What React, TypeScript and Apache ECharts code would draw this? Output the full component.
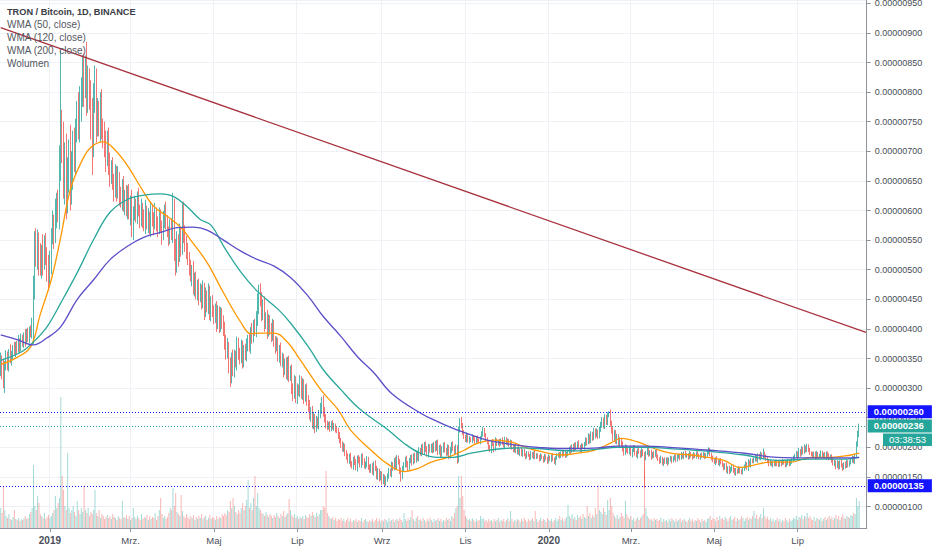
import React, { useEffect, useRef } from "react";
import * as echarts from "echarts";

// ---------- data (prices in units of 0.00000001 BTC) ----------
const START_UTC = Date.UTC(2018, 10, 26); // first daily candle
const TOTAL_DAYS = 634; // candles + empty future days on the axis
const OPEN_FIRST = 330;

const CLOSE = [
  345, 330, 312, 338, 352, 340, 360, 348, 355, 368, 362, 372, 366, 378, 370, 382, 376, 388, 380, 392, 386, 398, 392, 404,
  470, 540,
  525, 548, 520, 505, 530, 515, 540, 528, 510, 490,
  512, 555, 575, 560, 590, 610, 598,
  690, 740, 715,
  650, 690, 620, 660, 700, 640, 670, 710,
  690, 735, 760, 745, 780,
  800, 835, 810, 845, 790, 825, 800,
  760, 720, 790, 815, 750,
  770, 745, 775, 740, 730,
  710, 690, 720, 680, 665,
  670, 650, 640, 660, 635, 655, 628,
  620, 638, 610, 625, 605, 630, 600, 615, 570, 595,
  610, 595, 620, 600, 585, 605, 590, 575, 598, 580, 590, 570, 600, 585, 578, 595, 580,
  570, 590, 575, 560, 585, 600, 580, 565, 555, 575, 560, 600,
  540, 510, 550, 525, 560, 540, 600, 565, 545, 530,
  520, 505, 490, 500, 470, 485, 460, 475, 455, 465,
  445, 470, 430, 455, 440, 465, 425, 445, 430,
  420, 435, 410, 430, 405, 425, 415, 400,
  380, 360, 370, 340, 320, 350, 330,
  355, 345, 375, 360, 350, 370, 345, 365, 355, 372,
  380, 370, 395, 385, 405, 398, 415,
  440, 465, 450,
  425, 440, 410, 420, 395, 415, 400, 390, 405,
  380, 370, 375, 355, 365, 345, 350, 330, 340, 325, 345, 320, 330,
  300, 290, 310, 285, 300, 295, 312, 290, 305, 285, 298, 280,
  270, 255, 262, 240, 250, 232, 245,
  238, 255, 265, 280, 262, 248, 240, 235,
  238, 232, 240, 234, 236, 230, 228,
  220, 212, 205, 198, 202, 190, 185,
  178, 185, 172, 168, 180, 175, 165, 182, 178, 170, 185, 176, 168, 172, 180, 166, 162,
  168, 158, 172, 165, 150, 160, 148, 155, 142, 150, 140, 146, 152,
  160, 155, 170, 165, 178, 168, 182, 175, 160, 150, 165,
  170, 180, 172, 165, 178, 182, 175, 186,
  178, 188, 182, 195, 190, 200, 192, 205, 198, 188, 200, 195,
  202, 195, 205, 198, 208, 192, 200, 188, 196, 204, 195, 190, 200, 185, 195, 205, 198, 192, 200, 178,
  230, 245, 236, 225,
  218, 212, 220, 210, 215, 212, 218, 214, 210, 216, 212, 209, 215,
  222, 230, 220, 214, 208,
  200, 195, 210, 205, 196, 212, 206,
  210, 205, 212, 208, 203, 214, 207, 211, 204, 209,
  200, 195, 202, 192, 198, 190, 196, 188, 194,
  188, 184, 190, 186, 182, 189, 185, 191, 183, 187,
  184, 180, 186, 182, 178, 185, 181, 176, 183, 179, 186, 180, 175, 182, 186,
  188, 185, 190, 187, 191, 186, 189,
  192, 198, 194, 202, 196, 205, 199, 207, 201, 195, 203, 200,
  205, 212, 208, 218, 210, 222, 215, 228, 220, 226, 218, 230,
  238, 245, 236, 250, 242, 255, 258, 240,
  228, 215, 225, 210, 218, 206, 212,
  205, 198, 190, 200, 195,
  192, 198, 188, 195, 200, 190, 185, 196, 192, 186, 194, 189,
  182, 190, 196, 188, 192, 184, 190, 186, 193, 185,
  180, 176, 182, 172, 178, 175, 180, 174, 179, 183, 177, 181, 185, 179, 184,
  186, 182, 188, 184, 190, 185, 187, 183, 189, 186, 184, 188, 185, 190, 186, 183, 187, 185, 189, 184, 186, 192, 196, 188,
  182, 178, 175, 180, 176, 172, 178, 174, 170,
  165, 170, 160, 166, 158, 163, 168, 160, 156, 162, 158, 164, 160, 157, 163,
  168, 172, 165, 175, 170, 178, 176,
  180, 184, 178, 186, 182, 188, 185, 190, 184, 181,
  176, 172, 175, 170, 174, 171, 176, 173, 170, 175, 172, 176, 174, 170, 173, 177, 172, 175, 178,
  182, 186, 190, 185, 194, 188, 198, 192, 200, 195, 202, 196, 190,
  188, 185, 190, 184, 189, 183, 187, 191, 185, 188, 184, 190, 186, 182, 185,
  178, 172, 176, 168, 174, 166, 175, 170, 165, 172, 168, 176, 170, 174,
  178, 182, 176, 185,
  205, 222, 236,
];

// how far each day's high reaches above the candle body
const WICK_UP = [
  15, 10, 20, 8, 12, 10, 6, 14, 8, 5, 10, 6, 8, 12, 6, 10, 8, 6, 12, 8, 10, 6, 8, 15,
  20, 25,
  30, 20, 15, 25, 12, 30, 18, 22, 10, 15,
  20, 15, 25, 18, 30, 20, 25,
  20, 130, 30,
  35, 25, 40, 30, 20, 45, 30, 25,
  30, 20, 25, 40, 30,
  25, 27, 30, 17, 40, 20, 15,
  20, 30, 25, 30, 25,
  20, 15, 25, 30, 15,
  20, 25, 15, 20, 18,
  15, 20, 12, 18, 15, 20, 10,
  12, 15, 20, 10, 18, 12, 15, 10, 20, 12,
  15, 10, 12, 18, 10, 15, 8, 12, 20, 10, 14, 8, 15, 10, 12, 18, 10,
  10, 15, 12, 8, 14, 10, 15, 12, 8, 10, 12, 30,
  20, 12, 15, 10, 18, 12, 12, 15, 10, 12,
  15, 10, 12, 8, 15, 10, 12, 8, 10, 12,
  10, 12, 8, 15, 10, 12, 8, 10, 12,
  10, 8, 12, 10, 8, 12, 10, 8,
  12, 10, 15, 8, 12, 10, 15,
  10, 8, 12, 10, 8, 12, 10, 8, 10, 12,
  10, 12, 8, 15, 10, 12, 15,
  20, 10, 12,
  12, 10, 15, 8, 12, 10, 8, 10, 12,
  10, 8, 12, 10, 8, 12, 10, 8, 10, 12, 8, 10, 8,
  10, 8, 12, 10, 8, 6, 10, 8, 12, 10, 8, 10,
  8, 10, 6, 8, 10, 6, 8,
  6, 8, 10, 5, 8, 6, 8, 5,
  5, 6, 4, 6, 5, 4, 6,
  5, 6, 4, 5, 6, 4, 5,
  5, 4, 6, 5, 4, 6, 5, 4, 5, 6, 4, 5, 6, 4, 5, 4, 5,
  4, 5, 4, 6, 4, 5, 4, 5, 4, 5, 4, 5, 4,
  5, 4, 6, 5, 4, 6, 5, 4, 5, 6, 4,
  5, 4, 6, 5, 4, 5, 6, 4,
  5, 4, 6, 5, 4, 5, 6, 4, 5, 4, 6, 5,
  4, 5, 4, 6, 4, 5, 4, 5, 6, 4, 5, 4, 5, 4, 6, 4, 5, 4, 5, 4,
  5, 4, 6, 5,
  4, 3, 5, 3, 4, 2, 4, 3, 5, 3, 4, 3, 4,
  5, 4, 3, 4, 3,
  3, 4, 2, 4, 3, 5, 3,
  3, 4, 3, 5, 2, 4, 3, 4, 3, 4,
  3, 4, 3, 5, 3, 4, 2, 4, 3,
  3, 2, 4, 3, 3, 5, 3, 2, 4, 3,
  3, 3, 4, 2, 3, 4, 3, 3, 5, 3, 2, 4, 3, 3, 4,
  3, 4, 3, 5, 3, 4, 3,
  4, 3, 5, 3, 4, 3, 4, 3, 5, 3, 4, 3,
  4, 5, 4, 6, 4, 5, 4, 5, 4, 6, 4, 5,
  5, 6, 5, 6, 5, 4, 3, 6,
  5, 6, 5, 4, 5, 4, 5,
  4, 5, 4, 5, 4,
  4, 3, 5, 3, 4, 3, 4, 2, 4, 3, 5, 3,
  3, 4, 3, 5, 3, 4, 2, 4, 3, 4,
  3, 3, 4, 2, 3, 5, 3, 3, 4, 3, 2, 4, 3, 3, 4,
  3, 3, 4, 2, 3, 4, 3, 3, 5, 3, 3, 4, 2, 3, 4, 3, 3, 4, 3, 2, 4, 3, 4, 3,
  3, 4, 3, 3, 5, 3, 2, 4, 3,
  3, 3, 4, 2, 3, 4, 3, 3, 5, 3, 2, 4, 3, 3, 4,
  3, 4, 3, 5, 3, 4, 3,
  3, 4, 3, 4, 3, 5, 3, 8, 3, 4,
  3, 3, 4, 2, 3, 4, 3, 3, 5, 3, 2, 4, 3, 3, 4, 3, 2, 4, 3,
  4, 3, 4, 3, 5, 3, 4, 3, 5, 3, 4, 3, 3,
  3, 4, 3, 3, 5, 3, 2, 4, 3, 3, 4, 3, 3, 4, 3,
  3, 4, 3, 2, 4, 3, 3, 5, 3, 3, 4, 3, 2, 4,
  3, 4, 3, 4,
  5, 6, 4,
];

// how far each day's low reaches below the candle body
const WICK_DN = [
  10, 15, 12, 20, 8, 10, 12, 6, 10, 8, 6, 10, 8, 6, 10, 8, 6, 8, 10, 6, 8, 10, 6, 8,
  30, 20,
  20, 25, 30, 15, 20, 25, 15, 20, 30, 25,
  15, 20, 12, 25, 15, 20, 18,
  30, 40, 35,
  30, 40, 35, 25, 30, 40, 30, 35,
  25, 30, 20, 25, 30,
  30, 25, 35, 20, 30, 25, 30,
  40, 60, 30, 25, 35,
  25, 20, 30, 20, 25,
  20, 25, 15, 20, 25,
  20, 15, 25, 18, 20, 15, 20,
  15, 20, 12, 18, 15, 20, 15, 25, 15, 20,
  12, 15, 18, 10, 15, 12, 20, 10, 15, 12, 18, 10, 15, 12, 20, 10, 15,
  15, 10, 12, 18, 10, 15, 12, 10, 15, 12, 10, 15,
  25, 20, 15, 20, 12, 18, 15, 20, 15, 12,
  12, 15, 10, 18, 12, 15, 10, 12, 15, 10,
  12, 10, 15, 10, 12, 15, 10, 12, 10,
  12, 10, 15, 10, 12, 10, 15, 12,
  15, 12, 10, 15, 18, 12, 10,
  12, 10, 15, 12, 10, 8, 12, 10, 8, 10,
  10, 8, 12, 10, 8, 10, 12,
  10, 15, 12,
  12, 10, 15, 10, 12, 8, 10, 12, 10,
  10, 12, 8, 10, 12, 8, 10, 12, 8, 10, 12, 10, 8,
  10, 12, 8, 10, 12, 8, 10, 8, 10, 12, 8, 10,
  10, 8, 12, 8, 10, 8, 6,
  6, 8, 6, 8, 10, 6, 8, 6,
  5, 6, 5, 4, 6, 5, 4,
  6, 5, 6, 5, 6, 5, 6,
  5, 6, 5, 4, 6, 5, 4, 6, 5, 4, 5, 6, 4, 5, 6, 4, 5,
  5, 4, 6, 5, 4, 5, 6, 4, 5, 4, 6, 5, 4,
  5, 4, 6, 5, 4, 6, 5, 4, 5, 8, 4,
  5, 4, 6, 5, 4, 5, 6, 4,
  5, 4, 5, 6, 4, 5, 4, 5, 6, 4, 5, 4,
  4, 5, 4, 5, 4, 5, 4, 5, 4, 5, 4, 5, 4, 5, 4, 5, 4, 5, 4, 6,
  4, 5, 4, 4,
  4, 3, 4, 2, 4, 3, 5, 3, 4, 3, 4, 2, 4,
  3, 4, 3, 4, 3,
  4, 3, 5, 3, 4, 2, 4,
  3, 4, 2, 4, 3, 5, 3, 4, 3, 4,
  4, 3, 4, 2, 4, 3, 5, 3, 4,
  3, 4, 3, 2, 4, 3, 3, 5, 3, 3,
  3, 4, 3, 2, 4, 3, 3, 4, 3, 2, 4, 3, 3, 5, 3,
  3, 4, 3, 4, 2, 4, 3,
  4, 3, 5, 3, 4, 3, 4, 2, 4, 3, 4, 3,
  4, 3, 5, 3, 4, 3, 4, 3, 5, 3, 4, 3,
  4, 5, 4, 5, 4, 5, 4, 5,
  5, 4, 5, 4, 5, 4, 5,
  4, 5, 4, 3, 4,
  3, 4, 3, 5, 3, 4, 2, 4, 3, 4, 3, 4,
  50, 4, 3, 4, 3, 5, 3, 4, 2, 4,
  3, 4, 3, 2, 4, 3, 3, 5, 3, 3, 4, 2, 3, 4, 3,
  3, 4, 3, 3, 4, 2, 3, 4, 3, 3, 5, 3, 3, 4, 2, 3, 4, 3, 3, 4, 3, 2, 4, 3,
  4, 3, 3, 5, 3, 2, 4, 3, 3,
  4, 3, 3, 5, 3, 2, 4, 3, 3, 4, 3, 2, 4, 3, 3,
  3, 4, 3, 5, 3, 4, 3,
  3, 4, 2, 4, 3, 4, 3, 5, 3, 4,
  3, 4, 3, 2, 4, 3, 3, 5, 3, 3, 4, 2, 3, 4, 3, 3, 4, 3, 3,
  3, 4, 3, 5, 3, 4, 2, 4, 3, 4, 3, 4, 3,
  3, 4, 3, 5, 3, 4, 2, 4, 3, 4, 3, 5, 3, 4, 3,
  4, 3, 4, 5, 3, 4, 3, 4, 5, 3, 4, 3, 4, 3,
  3, 4, 3, 4,
  3, 4, 5,
];

// daily volume (relative units)
const VOLUME = [
  20, 15, 42, 18, 12, 10, 14, 9, 8, 11,
  18, 9, 8, 10, 7, 9, 8, 10, 12, 9,
  10, 14, 16, 20, 63, 22, 18, 32, 25, 14,
  12, 10, 15, 9, 11, 13, 10, 12, 15, 18,
  32, 20, 25, 30, 131, 52, 38, 22, 18, 75,
  20, 15, 18, 22, 16, 12, 27, 18, 14, 20,
  16, 43, 18, 15, 20, 12, 16, 14, 18, 38,
  15, 12, 18, 10, 14, 12, 9, 11, 13, 10,
  12, 9, 14, 11, 10, 8, 12, 10, 9, 27,
  11, 10, 13, 9, 12, 8, 10, 20, 11, 9,
  12, 10, 8, 14, 9, 11, 10, 13, 8, 12,
  9, 11, 10, 15, 8, 12, 18, 30, 14, 10,
  12, 9, 11, 15, 20, 18, 40, 22, 35, 16,
  14, 12, 33, 17, 12, 10, 14, 11, 9, 12,
  10, 13, 8, 11, 9, 12, 10, 14, 9, 11,
  12, 8, 10, 13, 9, 11, 10, 8, 12, 9,
  11, 10, 14, 12, 15, 13, 18, 16, 27, 20,
  30, 22, 16, 14, 18, 15, 20, 25, 18, 22,
  28, 48, 20, 25, 18, 30, 52, 22, 35, 20,
  18, 15, 14, 12, 16, 13, 11, 14, 12, 10,
  13, 11, 15, 12, 10, 14, 12, 17, 11, 13,
  15, 29, 18, 13, 11, 14, 10, 12, 9, 11,
  10, 12, 9, 13, 11, 10, 14, 12, 16, 13,
  11, 15, 12, 14, 18, 18, 22, 20, 57, 15,
  12, 10, 9, 11, 8, 10, 7, 9, 8, 10,
  7, 9, 6, 8, 10, 7, 9, 6, 8, 7,
  9, 6, 8, 7, 10, 6, 8, 9, 7, 6,
  8, 7, 9, 6, 8, 10, 7, 9, 6, 8,
  7, 9, 8, 6, 10, 7, 8, 9, 6, 8,
  9, 7, 10, 8, 6, 15, 9, 7, 10, 8,
  11, 18, 9, 7, 10, 12, 8, 9, 7, 10,
  8, 6, 9, 7, 10, 8, 6, 9, 7, 8,
  10, 7, 9, 6, 8, 7, 10, 8, 9, 7,
  12, 10, 15, 20, 22, 52, 30, 52, 32, 18,
  12, 10, 8, 9, 7, 10, 8, 6, 9, 7,
  8, 12, 9, 10, 7, 8, 6, 9, 7, 8,
  6, 9, 7, 8, 10, 6, 8, 7, 9, 6,
  8, 10, 7, 17, 9, 6, 8, 7, 9, 8,
  6, 9, 7, 10, 8, 6, 9, 7, 8, 10,
  7, 17, 9, 6, 8, 10, 7, 9, 8, 6,
  10, 8, 7, 9, 6, 8, 10, 7, 9, 12,
  8, 10, 7, 9, 11, 23, 12, 10, 14, 9,
  11, 8, 13, 10, 12, 9, 14, 11, 10, 22,
  12, 15, 10, 13, 11, 20, 14, 43, 18, 16,
  14, 20, 16, 13, 28, 18, 30, 22, 15, 12,
  10, 13, 9, 11, 15, 12, 10, 27, 14, 11,
  9, 12, 8, 10, 7, 9, 11, 8, 10, 12,
  14, 58, 20, 12, 10, 8, 9, 7, 10, 8,
  9, 7, 8, 10, 6, 9, 7, 8, 6, 9,
  7, 10, 8, 6, 9, 7, 8, 10, 6, 8,
  9, 7, 6, 8, 10, 7, 9, 6, 8, 7,
  10, 8, 6, 9, 7, 8, 6, 9, 10, 12,
  8, 10, 9, 7, 11, 8, 12, 9, 10, 8,
  11, 9, 7, 10, 12, 8, 9, 11, 7, 10,
  8, 9, 12, 10, 7, 9, 11, 8, 10, 9,
  12, 17, 10, 13, 9, 11, 14, 10, 20, 12,
  9, 11, 8, 10, 7, 9, 6, 8, 10, 7,
  9, 6, 8, 7, 10, 8, 6, 9, 7, 8,
  10, 9, 12, 8, 11, 10, 13, 9, 12, 11,
  15, 10, 12, 9, 8, 11, 7, 10, 9, 8,
  10, 7, 9, 11, 8, 10, 12, 9, 11, 8,
  10, 13, 9, 12, 8, 11, 14, 10, 9, 12,
  11, 10, 13, 12, 15, 14, 30, 22, 27,
];

// weighted moving averages: [day index, value]
const WMA50 = [
  [0, 340], [12, 352], [22, 370], [29, 425], [37, 483], [44, 556], [51, 636], [59, 682], [66, 707], [75, 716],
  [83, 704], [93, 675], [102, 641], [112, 607], [122, 590], [132, 571], [139, 550], [151, 512], [163, 461],
  [176, 410], [183, 392], [190, 393], [200, 393], [210, 377], [219, 348], [229, 314], [236, 292], [247, 263],
  [256, 229], [271, 195], [283, 172], [295, 159], [305, 164], [315, 175], [327, 183], [339, 195], [349, 207],
  [361, 212], [373, 209], [386, 198], [397, 192], [410, 187], [422, 190], [434, 195], [446, 207], [454, 215],
  [466, 209], [478, 198], [490, 190], [505, 187], [517, 183], [529, 178], [541, 166], [551, 170], [563, 175],
  [578, 175], [593, 183], [607, 183], [622, 187], [628, 190],
];
const WMA120 = [
  [0, 347], [15, 361], [24, 378], [34, 404], [44, 444], [56, 495], [68, 551], [80, 597], [93, 619], [105, 626],
  [117, 628], [127, 623], [137, 605], [146, 585], [154, 575], [163, 540], [176, 495], [188, 463], [203, 433],
  [212, 410], [225, 370], [236, 331], [249, 297], [261, 268], [271, 250], [283, 230], [295, 207], [307, 190],
  [320, 183], [331, 183], [344, 190], [356, 195], [368, 198], [380, 199], [393, 198], [407, 195], [422, 194],
  [437, 197], [451, 200], [470, 200], [495, 197], [519, 193], [544, 187], [568, 178], [593, 180], [617, 180],
  [628, 183],
];
const WMA200 = [
  [0, 390], [12, 382], [24, 373], [34, 385], [44, 404], [56, 450], [68, 483], [80, 517], [93, 540], [105, 555],
  [117, 563], [129, 571], [141, 572], [151, 567], [163, 550], [176, 531], [188, 517], [200, 506], [212, 487],
  [225, 455], [236, 421], [249, 387], [261, 353], [273, 326], [286, 291], [307, 258], [320, 243], [331, 232],
  [344, 221], [356, 212], [368, 207], [380, 203], [393, 200], [407, 198], [422, 198], [437, 199], [451, 202],
  [470, 202], [495, 199], [519, 195], [544, 190], [568, 183], [593, 182], [617, 182], [628, 183],
];

const TRENDLINE = [909, 394]; // value at the left edge, value at the right edge
const LEVELS = [260, 135];
const LAST_PRICE = 236;
const COUNTDOWN = "03:38:53";
const MONTHS_PL = ["Sty", "Lut", "Mrz.", "Kwi", "Maj", "Cze", "Lip", "Sie", "Wrz", "Paź", "Lis", "Gru"];
const LEGEND_LINES = ["TRON / Bitcoin, 1D, BINANCE", "WMA (50, close)", "WMA (120, close)", "WMA (200, close)", "Wolumen"];

// ---------- styling ----------
const FONT = "'Liberation Sans', Arial, sans-serif";
const UP = "#26a69a";
const DOWN = "#ef5350";
const UP_VOL = "rgba(38,166,154,0.42)";
const DOWN_VOL = "rgba(239,83,80,0.42)";
const GRID_LINE = "#eef1f6";
const AXIS_LINE = "#8f939c";
const AXIS_TEXT = "#4a4d57";
const LEVEL_BLUE = "#1414ff";
const LAST_TEAL = "#26a69a";

const fmtPrice = (v: number) => (v * 1e-8).toFixed(8);

function buildDates(): string[] {
  const out: string[] = [];
  for (let i = 0; i < TOTAL_DAYS; i++) {
    out.push(new Date(START_UTC + i * 86400000).toISOString().slice(0, 10));
  }
  return out;
}

const isMarkDay = (value: string) => {
  const parts = String(value).split("-");
  return parts[2] === "01" && Number(parts[1]) % 2 === 1;
};

export default function App() {
  const ref = useRef<HTMLDivElement>(null);

  useEffect(() => {
    if (!ref.current) return;
    const chart = echarts.init(ref.current, null, { renderer: "svg" });
    const dates = buildDates();

    const candles = CLOSE.map((c, i) => {
      const o = i === 0 ? OPEN_FIRST : CLOSE[i - 1];
      const hi = Math.max(o, c) + (WICK_UP[i] ?? 0);
      const lo = Math.min(o, c) - (WICK_DN[i] ?? 0);
      return [o, c, lo, hi];
    });
    const volumes = VOLUME.map((v, i) => ({
      value: v,
      itemStyle: { color: candles[i] && candles[i][1] >= candles[i][0] ? UP_VOL : DOWN_VOL },
    }));

    const tickInterval = (_i: number, value: string) => isMarkDay(value);

    const levelLine = (v: number, color: string) => ({
      yAxis: v,
      lineStyle: { color, type: [1, 2], width: 1 },
      label: {
        show: true,
        position: "end",
        distance: 1,
        formatter: () => fmtPrice(v),
        backgroundColor: color,
        color: "#ffffff",
        fontFamily: FONT,
        fontSize: 9.5,
        fontWeight: "bold",
        lineHeight: 11,
        padding: [1, 8, 1, 6],
      },
    });

    const wmaSeries = (name: string, data: number[][], color: string) => ({
      name,
      type: "line",
      xAxisIndex: 0,
      yAxisIndex: 0,
      data,
      smooth: 0.4,
      showSymbol: false,
      symbol: "none",
      silent: true,
      lineStyle: { color, width: 1.3 },
      z: 4,
    });

    chart.setOption({
      animation: false,
      textStyle: { fontFamily: FONT },
      grid: [
        { left: 0, right: 65.3, top: 0, bottom: 22, outerBoundsMode: "none" },
        { left: 0, right: 65.3, top: 388, bottom: 22, outerBoundsMode: "none" },
      ],
      xAxis: [
        {
          type: "category",
          gridIndex: 0,
          data: dates,
          boundaryGap: true,
          axisLine: { show: false },
          axisTick: { show: false },
          axisLabel: { show: false },
          splitLine: { show: true, interval: tickInterval, lineStyle: { color: GRID_LINE, width: 1 } },
        },
        {
          type: "category",
          gridIndex: 1,
          data: dates,
          boundaryGap: true,
          axisLine: { show: true, lineStyle: { color: AXIS_LINE, width: 1 } },
          axisTick: { show: true, interval: tickInterval, alignWithLabel: true, length: 4, lineStyle: { color: AXIS_LINE } },
          axisLabel: {
            interval: tickInterval,
            margin: 7,
            color: AXIS_TEXT,
            fontSize: 9.5,
            fontFamily: FONT,
            formatter: (value: string) => {
              const [y, m] = value.split("-");
              const mi = Number(m);
              return mi === 1 ? `{y|${y}}` : MONTHS_PL[mi - 1];
            },
            rich: { y: { fontWeight: "bold", fontSize: 10, color: AXIS_TEXT, fontFamily: FONT } },
          },
          splitLine: { show: false },
        },
      ],
      yAxis: [
        {
          type: "value",
          gridIndex: 0,
          position: "right",
          min: 63.7,
          max: 955.6,
          splitNumber: 18,
          scale: true,
          axisLine: { show: true, lineStyle: { color: AXIS_LINE, width: 1 } },
          axisTick: { show: true, length: 4, lineStyle: { color: AXIS_LINE } },
          axisLabel: {
            margin: 8,
            color: AXIS_TEXT,
            fontSize: 9,
            fontFamily: FONT,
            showMinLabel: false,
            showMaxLabel: false,
            formatter: (v: number) => (Math.abs(v / 50 - Math.round(v / 50)) < 1e-6 ? fmtPrice(v) : ""),
          },
          splitLine: { show: true, lineStyle: { color: GRID_LINE, width: 1 } },
        },
        {
          type: "value",
          gridIndex: 1,
          min: 0,
          max: 140,
          show: false,
          splitLine: { show: false },
        },
      ],
      series: [
        {
          name: "Wolumen",
          type: "bar",
          xAxisIndex: 1,
          yAxisIndex: 1,
          data: volumes,
          barWidth: "65%",
          silent: true,
          z: 1,
        },
        {
          name: "TRX/BTC",
          type: "candlestick",
          xAxisIndex: 0,
          yAxisIndex: 0,
          data: candles,
          large: false,
          barWidth: "62%",
          silent: true,
          z: 3,
          itemStyle: {
            color: UP,
            color0: DOWN,
            borderColor: UP,
            borderColor0: DOWN,
            borderWidth: 0.8,
          },
          markLine: {
            silent: true,
            symbol: ["none", "none"],
            animation: false,
            z: 6,
            data: [
              [
                { coord: [dates[0], TRENDLINE[0]], lineStyle: { color: "#a8323e", width: 1.3, type: "solid" }, label: { show: false } },
                { coord: [dates[TOTAL_DAYS - 1], TRENDLINE[1]] },
              ],
              levelLine(LEVELS[0], LEVEL_BLUE),
              levelLine(LAST_PRICE, LAST_TEAL),
              levelLine(LEVELS[1], LEVEL_BLUE),
            ],
          },
        },
        wmaSeries("WMA 50", WMA50, "#ff9800"),
        wmaSeries("WMA 120", WMA120, "#2aa79b"),
        wmaSeries("WMA 200", WMA200, "#5a4fc8"),
      ],
    });

    const yLast = chart.convertToPixel({ yAxisIndex: 0 }, LAST_PRICE) as number;
    const legend = LEGEND_LINES.map((t, i) => ({
      type: "text",
      x: 7,
      y: 12 + i * 12.8,
      z: 50,
      silent: true,
      style: {
        text: t,
        fill: i === 0 ? "#3a3d45" : "#55585f",
        font: i === 0 ? `bold 9.2px ${FONT}` : `10px ${FONT}`,
        verticalAlign: "middle",
        textVerticalAlign: "middle",
      },
    }));
    chart.setOption({
      graphic: [
        ...legend,
        {
          type: "rect",
          x: 883,
          y: yLast + 7.5,
          z: 60,
          silent: true,
          shape: { width: 49, height: 12.5 },
          style: { fill: LAST_TEAL },
        },
        {
          type: "text",
          x: 907.5,
          y: yLast + 14,
          z: 61,
          silent: true,
          style: {
            text: COUNTDOWN,
            fill: "#ffffff",
            font: `9.5px ${FONT}`,
            align: "center",
            textAlign: "center",
            verticalAlign: "middle",
            textVerticalAlign: "middle",
          },
        },
      ],
    });

    return () => chart.dispose();
  }, []);

  return (
    <div
      ref={ref}
      style={{ position: "fixed", left: 0, top: 0, width: 932, height: 550, background: "#ffffff" }}
    />
  );
}
